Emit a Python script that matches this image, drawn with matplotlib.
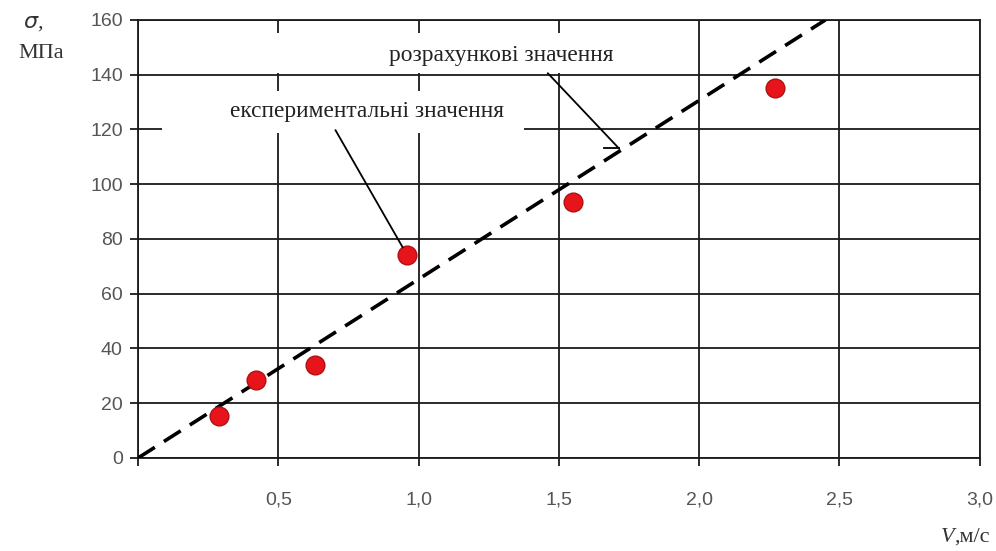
import matplotlib.pyplot as plt
from matplotlib.patches import Rectangle

# experimental points
v_exp = [0.29, 0.42, 0.63, 0.96, 1.55, 2.27]
sigma_exp = [15.5, 28.5, 34, 74, 93.5, 135]

# calculated line
v_calc = [0.0, 2.45]
sigma_calc = [0.0, 160.0]

xticks = [0.5, 1.0, 1.5, 2.0, 2.5, 3.0]
xticklabels = ['0,5', '1,0', '1,5', '2,0', '2,5', '3,0']
yticks = [0, 20, 40, 60, 80, 100, 120, 140, 160]

fig = plt.figure(figsize=(9.96, 5.51), dpi=100)
ax = fig.add_axes([0.1386, 0.1688, 0.845, 0.795])

ax.plot(v_calc, sigma_calc, color='black', lw=2.6, dashes=(5.5, 3), zorder=3)
ax.plot(v_exp, sigma_exp, 'o', ms=13.5, mfc='#e8141b', mec='#b01010', mew=1, zorder=4)

ax.set_xlim(0, 3.0)
ax.set_ylim(0, 160)
ax.set_xticks([0] + xticks)
ax.set_xticklabels([''] + xticklabels)
ax.set_yticks(yticks)
ax.grid(True, color='#1a1a1a', lw=1.3)
ax.set_axisbelow(True)
for s in ax.spines.values():
    s.set_color('#1a1a1a')
    s.set_linewidth(1.3)
ax.tick_params(direction='out', length=6, width=1.3, color='#1a1a1a',
               labelsize=14, labelcolor='#555555', pad=5)
ax.tick_params(axis='x', pad=18)
for lab in ax.get_xticklabels() + ax.get_yticklabels():
    lab.set_family('Liberation Sans')

# white label boxes that hide the grid
ax.add_patch(Rectangle((0.33, 140.7), 1.43, 14.5, fc='white', ec='none', zorder=2))
ax.add_patch(Rectangle((0.086, 118.6), 1.29, 15.5, fc='white', ec='none', zorder=2))

# annotations
ax.text(1.295, 147, 'розрахункові значення', family='Liberation Serif',
        fontsize=16.8, color='#222222', ha='center', va='center', zorder=5)
ax.plot([1.461, 1.714], [140.5, 113.1], color='black', lw=1.3, zorder=5)
ax.plot([1.66, 1.714], [113.1, 113.1], color='black', lw=1.3, zorder=5)
ax.text(0.815, 126.5, 'експериментальні значення', family='Liberation Serif',
        fontsize=16.8, color='#222222', ha='center', va='center', zorder=5)
ax.plot([0.704, 0.943], [119.7, 77], color='black', lw=1.3, zorder=5)

# axis labels
fig.text(0.033, 0.958, r'$\sigma$,', family='Liberation Serif', fontsize=16,
         color='#333333', ha='center', va='center', style='italic')
fig.text(0.041, 0.902, 'МПа', family='Liberation Serif', fontsize=16,
         color='#333333', ha='center', va='center')
fig.text(0.958, 0.025, 'V', family='Liberation Serif', fontsize=16,
         style='italic', color='#333333', ha='right', va='center')
fig.text(0.958, 0.025, ',м/с', family='Liberation Serif', fontsize=16,
         color='#333333', ha='left', va='center')

fig.savefig('out.png', dpi=100)
